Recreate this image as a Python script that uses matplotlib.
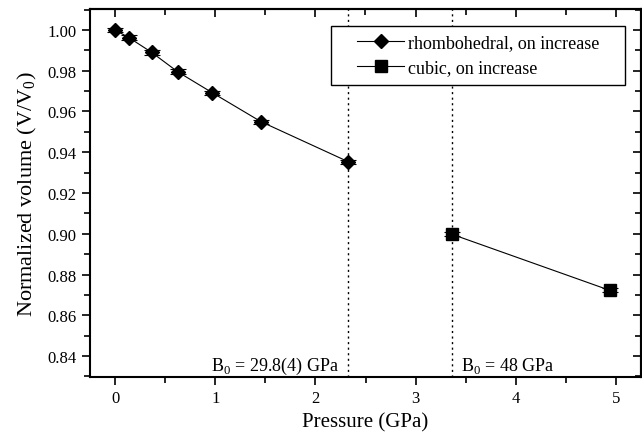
import numpy as np
import matplotlib
matplotlib.use('Agg')
import matplotlib.pyplot as plt
from matplotlib.ticker import MultipleLocator, FormatStrFormatter
from matplotlib.lines import Line2D
from matplotlib.patches import Rectangle

plt.rcParams['font.family'] = ['Liberation Serif', 'DejaVu Serif']
plt.rcParams['mathtext.fontset'] = 'custom'
plt.rcParams['mathtext.rm'] = 'Liberation Serif'

# rhombohedral phase, on increase
p_rh = [0.0, 0.137, 0.366, 0.625, 0.971, 1.457, 2.33]
v_rh = [1.000, 0.9963, 0.9890, 0.9795, 0.9692, 0.9550, 0.9353]
e_rh = [0.0012, 0.0012, 0.0012, 0.0012, 0.0010, 0.0010, 0.0010]

# cubic phase, on increase
p_cu = [3.36, 4.94]
v_cu = [0.8998, 0.8722]
e_cu = [0.0010, 0.0010]

# transition markers
p_lines = [2.33, 3.36]

fig = plt.figure(figsize=(6.42, 4.35), dpi=100)
ax = fig.add_axes([90/642, 1-378/435, 551/642, 368/435])

ax.errorbar(p_rh, v_rh, yerr=e_rh, color='black', linewidth=0.8, marker='D',
            markersize=7, capsize=6, elinewidth=0.8, capthick=0.8)
ax.errorbar(p_cu, v_cu, yerr=e_cu, color='black', linewidth=0.8, marker='s',
            markersize=8, capsize=6, elinewidth=0.8, capthick=0.8)

for xp in p_lines:
    ax.axvline(xp, color='black', linestyle=(0, (1.5, 2.5)), linewidth=1.0)

ax.text(2.23, 0.8355, 'B$_0$ = 29.8(4) GPa', ha='right', va='center', fontsize=13)
ax.text(3.45, 0.8355, 'B$_0$ = 48 GPa', ha='left', va='center', fontsize=13)

ax.set_xlim(-0.25, 5.25)
ax.set_ylim(0.8297, 1.0103)
ax.xaxis.set_major_locator(MultipleLocator(1))
ax.xaxis.set_minor_locator(MultipleLocator(0.5))
ax.yaxis.set_major_locator(MultipleLocator(0.02))
ax.yaxis.set_minor_locator(MultipleLocator(0.01))
ax.yaxis.set_major_formatter(FormatStrFormatter('%.2f'))

ax.tick_params(which='both', direction='out', top=False, right=False, labelsize=12, width=1.2)
ax.tick_params(which='major', length=6)
ax.tick_params(which='minor', length=4)
# top and right ticks point inward
ax2 = ax.secondary_xaxis('top')
ax2.xaxis.set_major_locator(MultipleLocator(1))
ax2.xaxis.set_minor_locator(MultipleLocator(0.5))
ax2.tick_params(which='both', direction='in', labeltop=False, width=1.2)
ax2.tick_params(which='major', length=6)
ax2.tick_params(which='minor', length=4)
ay2 = ax.secondary_yaxis('right')
ay2.yaxis.set_major_locator(MultipleLocator(0.02))
ay2.yaxis.set_minor_locator(MultipleLocator(0.01))
ay2.tick_params(which='both', direction='in', labelright=False, width=1.2)
ay2.tick_params(which='major', length=6)
ay2.tick_params(which='minor', length=4)

for sp in list(ax.spines.values()) + [ax2.spines['top'], ay2.spines['right']]:
    sp.set_linewidth(1.5)

ax.set_xlabel('Pressure (GPa)', fontsize=15, labelpad=4)
ax.set_ylabel('Normalized volume (V/V$_0$)', fontsize=16, labelpad=6)

# legend box drawn by hand so its padding matches
ax.add_patch(Rectangle((0.4374, 0.7935), 0.5336, 0.1603, transform=ax.transAxes,
                       facecolor='white', edgecolor='black', linewidth=1.0, zorder=4))
handles = [Line2D([], [], color='black', linewidth=0.8, marker='D', markersize=7),
           Line2D([], [], color='black', linewidth=0.8, marker='s', markersize=8)]
labels = ['rhombohedral, on increase', 'cubic, on increase']
leg = ax.legend(handles, labels, loc='center', bbox_to_anchor=(0.7042, 0.8736),
                fontsize=13, frameon=False, handlelength=2.6, handletextpad=0.2,
                labelspacing=0.45, borderpad=0)
leg.set_zorder(5)

plt.savefig('out.png', dpi=100)
